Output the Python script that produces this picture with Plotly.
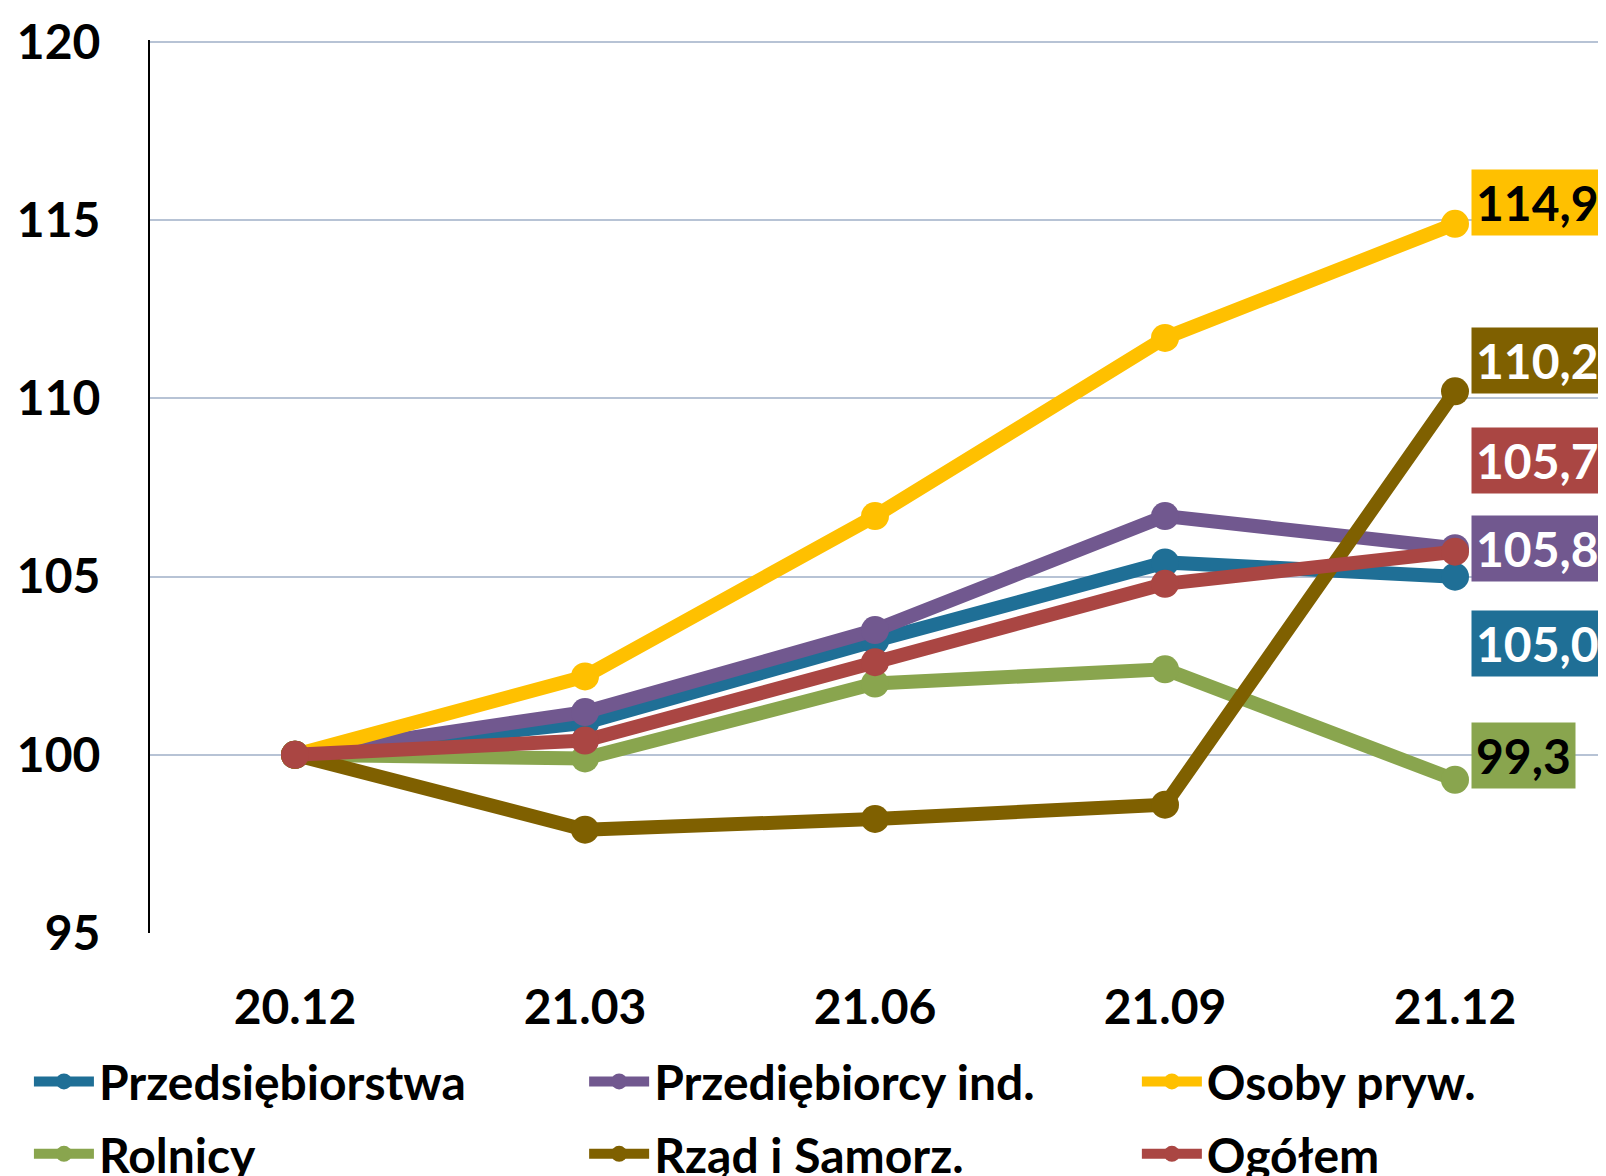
import plotly.graph_objects as go

# Okresy (kwartały)
okresy = ["20.12", "21.03", "21.06", "21.09", "21.12"]

# Wartości indeksów (20.12 = 100)
przedsiebiorstwa = [100.0, 100.9, 103.2, 105.4, 105.0]
przedsiebiorcy_ind = [100.0, 101.2, 103.5, 106.7, 105.8]
osoby_pryw = [100.0, 102.2, 106.7, 111.7, 114.9]
rolnicy = [100.0, 99.9, 102.0, 102.4, 99.3]
rzad_samorz = [100.0, 97.9, 98.2, 98.6, 110.2]
ogolem = [100.0, 100.4, 102.6, 104.8, 105.7]

FONT = "Lato"
FS = 48

# nazwa, dane, kolor linii, kolor tekstu etykiety, przesunięcie etykiety (px), legenda
serie = [
    ("Przedsiębiorstwa", przedsiebiorstwa, "#1F6F96", "white", -67, "legend"),
    ("Przediębiorcy ind.", przedsiebiorcy_ind, "#71588F", "white", 0, "legend2"),
    ("Osoby pryw.", osoby_pryw, "#FFC000", "black", 21, "legend3"),
    ("Rolnicy", rolnicy, "#89A54E", "black", 24, "legend"),
    ("Rząd i Samorz.", rzad_samorz, "#7F6000", "white", 31, "legend2"),
    ("Ogółem", ogolem, "#AA4643", "white", 91, "legend3"),
]

fig = go.Figure()
annotations = []
ostatni = len(okresy) - 1
for nazwa, dane, kolor, kolor_tekstu, przes, leg in serie:
    fig.add_trace(go.Scatter(
        x=okresy, y=dane, name=nazwa, mode="lines+markers",
        line=dict(color=kolor, width=14),
        marker=dict(color=kolor, size=28),
        legend=leg, legendgroup=nazwa, cliponaxis=False,
    ))
    # etykieta wartości końcowej (oś kategorii -> indeks)
    annotations.append(dict(
        x=ostatni, y=dane[-1], xref="x", yref="y",
        text=f"{dane[-1]:.1f}".replace(".", ","),
        showarrow=False, xanchor="left", yanchor="middle",
        xshift=16, yshift=przes, bgcolor=kolor, borderpad=4,
        font=dict(family=FONT, size=FS, color=kolor_tekstu, weight=700),
    ))

legend_font = dict(family=FONT, size=FS, color="black", weight=700)
legend_common = dict(orientation="v", xanchor="left", yanchor="top", y=-0.124,
                     font=legend_font, itemwidth=60, tracegroupgap=7,
                     bgcolor="rgba(0,0,0,0)", borderwidth=0)

# strona ma margines 8 px, więc marginesy wykresu są o tyle mniejsze
fig.update_layout(
    width=1606, height=1176,
    margin=dict(l=142, r=14, t=32, b=251, autoexpand=False),
    plot_bgcolor="white", paper_bgcolor="white",
    annotations=annotations,
    legend=dict(x=-0.0835, **legend_common),
    legend2=dict(x=0.2994, **legend_common),
    legend3=dict(x=0.6806, **legend_common),
    xaxis=dict(
        type="category", range=[-0.5, 4.5], showgrid=False,
        showline=True, linecolor="white", linewidth=3, ticks="",
        ticklabelstandoff=30,
        tickfont=dict(family=FONT, size=FS, color="black", weight=700),
    ),
    yaxis=dict(
        range=[95, 120.06], tickvals=[95, 100, 105, 110, 115, 120],
        showgrid=True, gridcolor="#B7C3D5", gridwidth=1.5,
        zeroline=False, showline=True, linecolor="black", linewidth=2, ticks="",
        ticklabelstandoff=38,
        tickfont=dict(family=FONT, size=FS, color="black", weight=700),
    ),
)

fig.write_html("out.html")
